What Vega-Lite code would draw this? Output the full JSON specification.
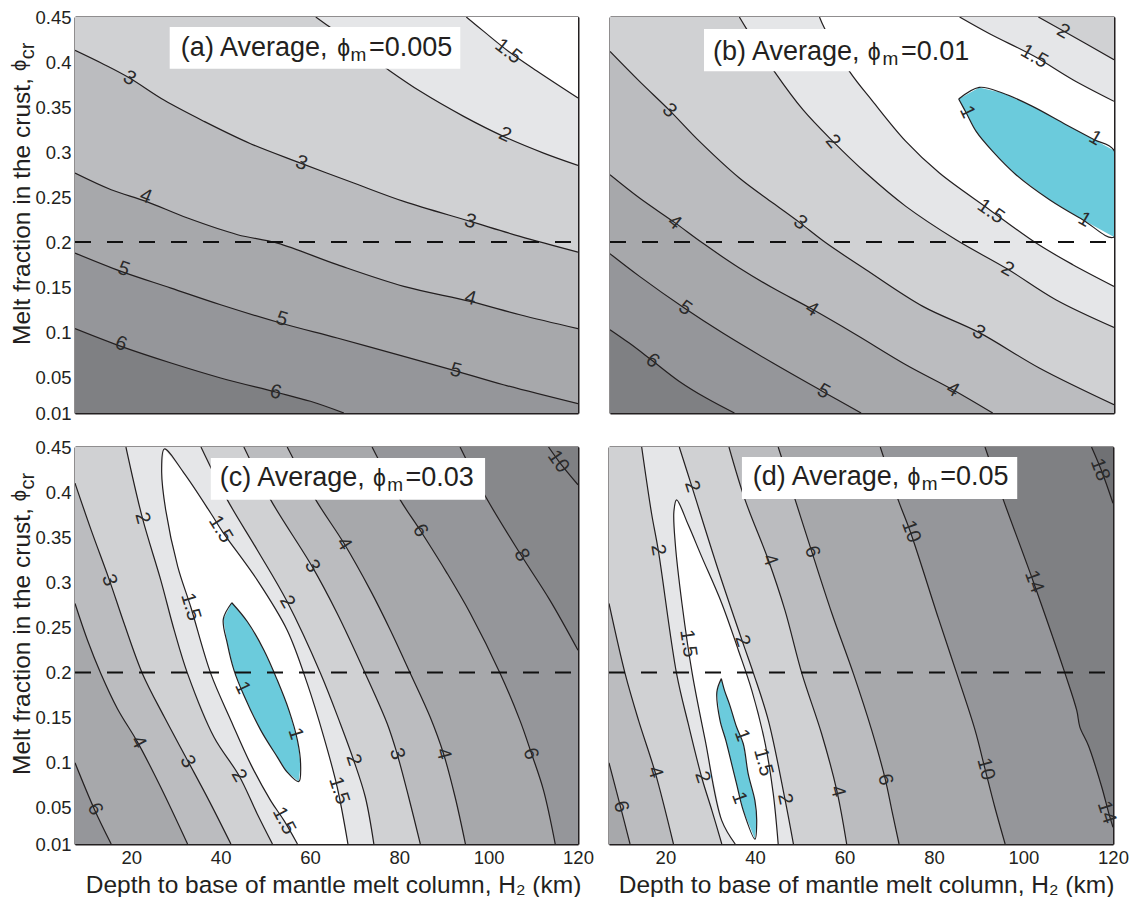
{
"$schema":"https://vega.github.io/schema/vega-lite/v6.json",
"padding":{"left":9,"top":8,"right":0,"bottom":0},
"background":"white",
"config":{"font":"Liberation Sans","view":{"stroke":null},
"axis":{"domainColor":"#231f20","domainWidth":2,"tickColor":"#231f20","tickWidth":1,"tickSize":-5,"labelFontSize":18.5,"labelColor":"#231f20","titleFontSize":24.5,"titleFontWeight":"normal","titleColor":"#231f20","grid":false,"zindex":1,"labelPadding":9,"labelOverlap":false,"labelFlush":false,"labelBound":false}},
"datasets":{
"reference":[{"x":7.4,"x2":120,"y":0.2}],
"yTitle":[{"text":"ϕ","x":-3.5,"y":0.39},{"text":"cr","x":-1.7,"y":0.403}],
"a":[
{"zone":"z8","x":7.4,"y":0.45},{"zone":"z8","x":120,"y":0.45},{"zone":"z8","x":120,"y":0.01},{"zone":"z8","x":7.4,"y":0.01},
{"zone":"z6","line":"6","x":7.4,"y":0.1037},{"zone":"z6","line":"6","x":17.7,"y":0.084},{"zone":"z6","line":"6","x":28.9,"y":0.0655},{"zone":"z6","line":"6","x":40,"y":0.0489},{"zone":"z6","line":"6","x":52.3,"y":0.0333},{"zone":"z6","line":"6","x":60.1,"y":0.023},{"zone":"z6","line":"6","x":67.6,"y":0.01},{"zone":"z6","x":120,"y":0.01},{"zone":"z6","x":120,"y":0.45},{"zone":"z6","x":7.4,"y":0.45},
{"zone":"z5","line":"5","x":7.4,"y":0.1877},{"zone":"z5","line":"5","x":17.7,"y":0.1674},{"zone":"z5","line":"5","x":28.9,"y":0.1488},{"zone":"z5","line":"5","x":40,"y":0.1303},{"zone":"z5","line":"5","x":53.4,"y":0.11},{"zone":"z5","line":"5","x":66.1,"y":0.0933},{"zone":"z5","line":"5","x":81,"y":0.0729},{"zone":"z5","line":"5","x":92.2,"y":0.0574},{"zone":"z5","line":"5","x":103.3,"y":0.0414},{"zone":"z5","line":"5","x":120,"y":0.0203},{"zone":"z5","x":120,"y":0.45},{"zone":"z5","x":7.4,"y":0.45},
{"zone":"z4","line":"4","x":7.4,"y":0.2766},{"zone":"z4","line":"4","x":15.5,"y":0.2581},{"zone":"z4","line":"4","x":23.3,"y":0.2451},{"zone":"z4","line":"4","x":32.6,"y":0.2266},{"zone":"z4","line":"4","x":43.8,"y":0.2081},{"zone":"z4","line":"4","x":52.7,"y":0.1988},{"zone":"z4","line":"4","x":66.1,"y":0.1748},{"zone":"z4","line":"4","x":81,"y":0.1507},{"zone":"z4","line":"4","x":95.9,"y":0.134},{"zone":"z4","line":"4","x":107,"y":0.1192},{"zone":"z4","line":"4","x":120,"y":0.1037},{"zone":"z4","x":120,"y":0.45},{"zone":"z4","x":7.4,"y":0.45},
{"zone":"z3","line":"3","x":7.4,"y":0.4129},{"zone":"z3","line":"3","x":14,"y":0.397},{"zone":"z3","line":"3","x":19.6,"y":0.3822},{"zone":"z3","line":"3","x":27.4,"y":0.3574},{"zone":"z3","line":"3","x":36.3,"y":0.334},{"zone":"z3","line":"3","x":46.7,"y":0.3092},{"zone":"z3","line":"3","x":57.9,"y":0.2877},{"zone":"z3","line":"3","x":69.8,"y":0.2655},{"zone":"z3","line":"3","x":81,"y":0.2451},{"zone":"z3","line":"3","x":95.9,"y":0.2229},{"zone":"z3","line":"3","x":107,"y":0.2063},{"zone":"z3","line":"3","x":120,"y":0.1888},{"zone":"z3","x":120,"y":0.45},{"zone":"z3","x":7.4,"y":0.45},
{"zone":"z2","line":"2","x":61.3,"y":0.45},{"zone":"z2","line":"2","x":64.2,"y":0.4396},{"zone":"z2","line":"2","x":77.3,"y":0.3922},{"zone":"z2","line":"2","x":84.7,"y":0.3674},{"zone":"z2","line":"2","x":94.4,"y":0.3396},{"zone":"z2","line":"2","x":103.3,"y":0.3174},{"zone":"z2","line":"2","x":112.3,"y":0.2988},{"zone":"z2","line":"2","x":120,"y":0.2851},{"zone":"z2","x":120,"y":0.45},
{"zone":"z1","line":"1.5","x":95,"y":0.45},{"zone":"z1","line":"1.5","x":98.9,"y":0.434},{"zone":"z1","line":"1.5","x":104.4,"y":0.412},{"zone":"z1","line":"1.5","x":110.8,"y":0.39},{"zone":"z1","line":"1.5","x":120,"y":0.36},{"zone":"z1","x":120,"y":0.45}
],
"aLabels":[
{"text":"1.5","x":104.4,"y":0.4118,"angle":38},{"text":"2","x":103.7,"y":0.3192,"angle":25},{"text":"3","x":19.6,"y":0.3822,"angle":30},{"text":"3","x":58.1,"y":0.2877,"angle":20},{"text":"3","x":95.9,"y":0.2229,"angle":17},{"text":"4","x":23.3,"y":0.2507,"angle":22},{"text":"4","x":95.9,"y":0.1377,"angle":15},{"text":"5","x":18.3,"y":0.17,"angle":20},{"text":"5","x":53.7,"y":0.1144,"angle":18},{"text":"5","x":92.7,"y":0.0574,"angle":15},{"text":"6","x":17.7,"y":0.087,"angle":20},{"text":"6","x":52.3,"y":0.0333,"angle":15}
],
"aBox":[{"x":28.6,"x2":93.65,"y":0.4388,"y2":0.3925}],
"aHead":[{"kind":"big","text":"(a) Average,","x":31.1,"y":0.4063},{"kind":"big","text":"=0.005","x":73.2,"y":0.4063},{"kind":"phi","text":"ϕ","x":66.1,"y":0.4063},{"kind":"sub","text":"m","x":69.1,"y":0.4014}],
"b":[
{"zone":"z8","x":7.4,"y":0.45},{"zone":"z8","x":120,"y":0.45},{"zone":"z8","x":120,"y":0.01},{"zone":"z8","x":7.4,"y":0.01},
{"zone":"z6","line":"6","x":7.4,"y":0.1026},{"zone":"z6","line":"6","x":11.7,"y":0.0877},{"zone":"z6","line":"6","x":16.6,"y":0.0692},{"zone":"z6","line":"6","x":22.9,"y":0.0451},{"zone":"z6","line":"6","x":28.9,"y":0.0266},{"zone":"z6","line":"6","x":35.2,"y":0.01},{"zone":"z6","x":120,"y":0.01},{"zone":"z6","x":120,"y":0.45},{"zone":"z6","x":7.4,"y":0.45},
{"zone":"z5","line":"5","x":7.4,"y":0.187},{"zone":"z5","line":"5","x":14,"y":0.1618},{"zone":"z5","line":"5","x":24,"y":0.1266},{"zone":"z5","line":"5","x":32.6,"y":0.0988},{"zone":"z5","line":"5","x":43.8,"y":0.0655},{"zone":"z5","line":"5","x":54.9,"y":0.034},{"zone":"z5","line":"5","x":63.5,"y":0.01},{"zone":"z5","x":120,"y":0.01},{"zone":"z5","x":120,"y":0.45},{"zone":"z5","x":7.4,"y":0.45},
{"zone":"z4","line":"4","x":7.4,"y":0.2748},{"zone":"z4","line":"4","x":14,"y":0.2489},{"zone":"z4","line":"4","x":21.8,"y":0.2218},{"zone":"z4","line":"4","x":28.1,"y":0.1988},{"zone":"z4","line":"4","x":36.3,"y":0.1711},{"zone":"z4","line":"4","x":43.8,"y":0.1488},{"zone":"z4","line":"4","x":52.5,"y":0.1255},{"zone":"z4","line":"4","x":62.4,"y":0.097},{"zone":"z4","line":"4","x":73.5,"y":0.0637},{"zone":"z4","line":"4","x":84,"y":0.0359},{"zone":"z4","line":"4","x":92.9,"y":0.01},{"zone":"z4","x":120,"y":0.01},{"zone":"z4","x":120,"y":0.45},{"zone":"z4","x":7.4,"y":0.45},
{"zone":"z3","line":"3","x":7.4,"y":0.4118},{"zone":"z3","line":"3","x":14,"y":0.3785},{"zone":"z3","line":"3","x":20.7,"y":0.3463},{"zone":"z3","line":"3","x":27.4,"y":0.3118},{"zone":"z3","line":"3","x":36.3,"y":0.2711},{"zone":"z3","line":"3","x":43.8,"y":0.2433},{"zone":"z3","line":"3","x":49.7,"y":0.2218},{"zone":"z3","line":"3","x":55.7,"y":0.1988},{"zone":"z3","line":"3","x":64.6,"y":0.1692},{"zone":"z3","line":"3","x":77.3,"y":0.1285},{"zone":"z3","line":"3","x":89.8,"y":0.0996},{"zone":"z3","line":"3","x":103.3,"y":0.06},{"zone":"z3","line":"3","x":120,"y":0.0192},{"zone":"z3","x":120,"y":0.45},{"zone":"z3","x":7.4,"y":0.45},
{"zone":"z2","line":"2a","x":36.3,"y":0.45},{"zone":"z2","line":"2a","x":37.8,"y":0.4377},{"zone":"z2","line":"2a","x":44.1,"y":0.3896},{"zone":"z2","line":"2a","x":50.5,"y":0.347},{"zone":"z2","line":"2a","x":57.2,"y":0.3118},{"zone":"z2","line":"2a","x":64.6,"y":0.2766},{"zone":"z2","line":"2a","x":73.5,"y":0.2396},{"zone":"z2","line":"2a","x":84.7,"y":0.2025},{"zone":"z2","line":"2a","x":96.2,"y":0.17},{"zone":"z2","line":"2a","x":107,"y":0.1359},{"zone":"z2","line":"2a","x":120,"y":0.1051},{"zone":"z2","line":"2b","x":120,"y":0.4026},{"zone":"z2","line":"2b","x":108.9,"y":0.434},{"zone":"z2","line":"2b","x":103.1,"y":0.45},
{"zone":"z1","line":"1.5a","x":54.2,"y":0.45},{"zone":"z1","line":"1.5a","x":55.3,"y":0.4377},{"zone":"z1","line":"1.5a","x":60.9,"y":0.3896},{"zone":"z1","line":"1.5a","x":66.1,"y":0.3563},{"zone":"z1","line":"1.5a","x":73.5,"y":0.3118},{"zone":"z1","line":"1.5a","x":81,"y":0.2766},{"zone":"z1","line":"1.5a","x":92.2,"y":0.2359},{"zone":"z1","line":"1.5a","x":102.6,"y":0.1988},{"zone":"z1","line":"1.5a","x":110.8,"y":0.1748},{"zone":"z1","line":"1.5a","x":120,"y":0.1507},{"zone":"z1","line":"1.5b","x":120,"y":0.3563},{"zone":"z1","line":"1.5b","x":110.8,"y":0.3803},{"zone":"z1","line":"1.5b","x":102.2,"y":0.4063},{"zone":"z1","line":"1.5b","x":92.2,"y":0.4314},{"zone":"z1","line":"1.5b","x":85.5,"y":0.45},
{"zone":"z0","line":"1","x":85.3,"y":0.3588},{"zone":"z0","line":"1","x":89.9,"y":0.3718},{"zone":"z0","line":"1","x":95.1,"y":0.3655},{"zone":"z0","line":"1","x":101.8,"y":0.3507},{"zone":"z0","line":"1","x":109.3,"y":0.3303},{"zone":"z0","line":"1","x":115.6,"y":0.3137},{"zone":"z0","line":"1","x":120,"y":0.3018},{"zone":"z0","line":"1","x":120,"y":0.2055},{"zone":"z0","line":"1","x":113,"y":0.2248},{"zone":"z0","line":"1","x":105.6,"y":0.247},{"zone":"z0","line":"1","x":98.1,"y":0.2748},{"zone":"z0","line":"1","x":92.9,"y":0.3007},{"zone":"z0","line":"1","x":89.2,"y":0.3229},{"zone":"z0","line":"1","x":87,"y":0.3433},{"zone":"z0","line":"1","x":85.3,"y":0.3588}
],
"bLabels":[
{"text":"2","x":108.7,"y":0.434,"angle":30},{"text":"1.5","x":102.2,"y":0.4063,"angle":30},{"text":"1","x":87.2,"y":0.3444,"angle":65},{"text":"1","x":115.8,"y":0.3155,"angle":30},{"text":"1","x":113.4,"y":0.2248,"angle":30},{"text":"1.5","x":92.5,"y":0.234,"angle":35},{"text":"2","x":57.2,"y":0.3118,"angle":50},{"text":"2","x":96.2,"y":0.17,"angle":30},{"text":"3","x":20.7,"y":0.3463,"angle":45},{"text":"3","x":49.9,"y":0.2218,"angle":38},{"text":"3","x":89.8,"y":0.0996,"angle":30},{"text":"4","x":21.8,"y":0.2218,"angle":38},{"text":"4","x":52.5,"y":0.1255,"angle":32},{"text":"4","x":84,"y":0.0359,"angle":30},{"text":"5","x":24.2,"y":0.1266,"angle":35},{"text":"5","x":55.1,"y":0.034,"angle":30},{"text":"6","x":16.9,"y":0.0681,"angle":38}
],
"bBox":[{"x":28.4,"x2":87.3,"y":0.4366,"y2":0.3896}],
"bHead":[{"kind":"big","text":"(b) Average,","x":30.4,"y":0.4026},{"kind":"big","text":"=0.01","x":72.4,"y":0.4026},{"kind":"phi","text":"ϕ","x":65,"y":0.4026},{"kind":"sub","text":"m","x":68.3,"y":0.397}],
"c":[
{"zone":"z8","x":7.4,"y":0.45},{"zone":"z8","x":120,"y":0.45},{"zone":"z8","x":120,"y":0.01},{"zone":"z8","x":7.4,"y":0.01},
{"zone":"z7","line":"10","x":113.4,"y":0.45},{"zone":"z7","line":"10","x":116,"y":0.4322},{"zone":"z7","line":"10","x":120,"y":0.4081},{"zone":"z7","x":120,"y":0.01},{"zone":"z7","x":7.4,"y":0.01},{"zone":"z7","x":7.4,"y":0.45},
{"zone":"z6","line":"8","x":93.6,"y":0.45},{"zone":"z6","line":"8","x":99.2,"y":0.3959},{"zone":"z6","line":"8","x":107,"y":0.3322},{"zone":"z6","line":"8","x":113.7,"y":0.2803},{"zone":"z6","line":"8","x":120,"y":0.2248},{"zone":"z6","x":120,"y":0.01},{"zone":"z6","x":7.4,"y":0.01},{"zone":"z6","x":7.4,"y":0.45},
{"zone":"z5","line":"6a","x":7.4,"y":0.1},{"zone":"z5","line":"6a","x":11.7,"y":0.0489},{"zone":"z5","line":"6a","x":15.5,"y":0.01},{"zone":"z5","line":"6b","x":114.9,"y":0.01},{"zone":"z5","line":"6b","x":112.3,"y":0.0692},{"zone":"z5","line":"6b","x":109.6,"y":0.11},{"zone":"z5","line":"6b","x":107,"y":0.147},{"zone":"z5","line":"6b","x":102.6,"y":0.1988},{"zone":"z5","line":"6b","x":95.9,"y":0.2655},{"zone":"z5","line":"6b","x":90.7,"y":0.31},{"zone":"z5","line":"6b","x":84.7,"y":0.3574},{"zone":"z5","line":"6b","x":80.2,"y":0.3914},{"zone":"z5","line":"6b","x":73.9,"y":0.45},{"zone":"z5","x":7.4,"y":0.45},
{"zone":"z4","line":"4a","x":7.4,"y":0.2766},{"zone":"z4","line":"4a","x":10.2,"y":0.2359},{"zone":"z4","line":"4a","x":13.2,"y":0.1988},{"zone":"z4","line":"4a","x":16.9,"y":0.16},{"zone":"z4","line":"4a","x":21.4,"y":0.1229},{"zone":"z4","line":"4a","x":26.6,"y":0.0729},{"zone":"z4","line":"4a","x":32.6,"y":0.01},{"zone":"z4","line":"4b","x":94.8,"y":0.01},{"zone":"z4","line":"4b","x":92.5,"y":0.0618},{"zone":"z4","line":"4b","x":89.9,"y":0.11},{"zone":"z4","line":"4b","x":86.9,"y":0.1507},{"zone":"z4","line":"4b","x":82.5,"y":0.1988},{"zone":"z4","line":"4b","x":78,"y":0.247},{"zone":"z4","line":"4b","x":73.5,"y":0.2914},{"zone":"z4","line":"4b","x":67.6,"y":0.3433},{"zone":"z4","line":"4b","x":61.3,"y":0.3914},{"zone":"z4","line":"4b","x":54.9,"y":0.45},{"zone":"z4","x":7.4,"y":0.45},
{"zone":"z3","line":"3a","x":7.4,"y":0.41},{"zone":"z3","line":"3a","x":11,"y":0.3581},{"zone":"z3","line":"3a","x":15.1,"y":0.3025},{"zone":"z3","line":"3a","x":18.4,"y":0.2544},{"zone":"z3","line":"3a","x":22.5,"y":0.1988},{"zone":"z3","line":"3a","x":27.4,"y":0.1507},{"zone":"z3","line":"3a","x":32.6,"y":0.1026},{"zone":"z3","line":"3a","x":37.4,"y":0.0581},{"zone":"z3","line":"3a","x":42.3,"y":0.01},{"zone":"z3","line":"3b","x":84.7,"y":0.01},{"zone":"z3","line":"3b","x":82.1,"y":0.0618},{"zone":"z3","line":"3b","x":79.5,"y":0.11},{"zone":"z3","line":"3b","x":77.3,"y":0.1433},{"zone":"z3","line":"3b","x":72.4,"y":0.1988},{"zone":"z3","line":"3b","x":66.1,"y":0.2655},{"zone":"z3","line":"3b","x":60.5,"y":0.3174},{"zone":"z3","line":"3b","x":51.2,"y":0.3914},{"zone":"z3","line":"3b","x":45.2,"y":0.45},{"zone":"z3","x":7.4,"y":0.45},
{"zone":"z2","line":"2a","x":18.8,"y":0.45},{"zone":"z2","line":"2a","x":22.5,"y":0.3711},{"zone":"z2","line":"2a","x":26.6,"y":0.3025},{"zone":"z2","line":"2a","x":29.6,"y":0.247},{"zone":"z2","line":"2a","x":32.6,"y":0.1988},{"zone":"z2","line":"2a","x":38.5,"y":0.1285},{"zone":"z2","line":"2a","x":44.1,"y":0.0859},{"zone":"z2","line":"2a","x":48.2,"y":0.0433},{"zone":"z2","line":"2a","x":51.6,"y":0.01},{"zone":"z2","line":"2b","x":74.3,"y":0.01},{"zone":"z2","line":"2b","x":72.4,"y":0.0618},{"zone":"z2","line":"2b","x":69.8,"y":0.1026},{"zone":"z2","line":"2b","x":66.8,"y":0.1433},{"zone":"z2","line":"2b","x":62.4,"y":0.1988},{"zone":"z2","line":"2b","x":54.9,"y":0.2785},{"zone":"z2","line":"2b","x":48.2,"y":0.3359},{"zone":"z2","line":"2b","x":41.5,"y":0.3914},{"zone":"z2","line":"2b","x":35.6,"y":0.45},
{"zone":"z1","line":"1.5","x":57.2,"y":0.01},{"zone":"z1","line":"1.5","x":54.2,"y":0.0359},{"zone":"z1","line":"1.5","x":51.2,"y":0.0581},{"zone":"z1","line":"1.5","x":46.7,"y":0.0988},{"zone":"z1","line":"1.5","x":42.3,"y":0.147},{"zone":"z1","line":"1.5","x":37.8,"y":0.1988},{"zone":"z1","line":"1.5","x":33.3,"y":0.2729},{"zone":"z1","line":"1.5","x":30.4,"y":0.3174},{"zone":"z1","line":"1.5","x":27.7,"y":0.3803},{"zone":"z1","line":"1.5","x":26.8,"y":0.4229},{"zone":"z1","line":"1.5","x":27.4,"y":0.4478},{"zone":"z1","line":"1.5","x":31.8,"y":0.4211},{"zone":"z1","line":"1.5","x":37.8,"y":0.3766},{"zone":"z1","line":"1.5","x":40.4,"y":0.3563},{"zone":"z1","line":"1.5","x":48.2,"y":0.3025},{"zone":"z1","line":"1.5","x":54.9,"y":0.247},{"zone":"z1","line":"1.5","x":59.4,"y":0.1877},{"zone":"z1","line":"1.5","x":63.1,"y":0.1285},{"zone":"z1","line":"1.5","x":66.1,"y":0.0729},{"zone":"z1","line":"1.5","x":68.5,"y":0.01},
{"zone":"z0","line":"1","x":42.5,"y":0.2774},{"zone":"z0","line":"1","x":40.6,"y":0.2592},{"zone":"z0","line":"1","x":41.5,"y":0.2322},{"zone":"z0","line":"1","x":43,"y":0.2025},{"zone":"z0","line":"1","x":45.2,"y":0.1748},{"zone":"z0","line":"1","x":49,"y":0.1359},{"zone":"z0","line":"1","x":52.7,"y":0.1063},{"zone":"z0","line":"1","x":54.9,"y":0.0896},{"zone":"z0","line":"1","x":57.5,"y":0.0792},{"zone":"z0","line":"1","x":57.9,"y":0.0988},{"zone":"z0","line":"1","x":57.2,"y":0.1248},{"zone":"z0","line":"1","x":55.3,"y":0.1581},{"zone":"z0","line":"1","x":52.7,"y":0.1914},{"zone":"z0","line":"1","x":49.7,"y":0.2248},{"zone":"z0","line":"1","x":46,"y":0.2563},{"zone":"z0","line":"1","x":42.5,"y":0.2774}
],
"cLabels":[
{"text":"10","x":115.6,"y":0.434,"angle":55},{"text":"8","x":107.4,"y":0.3303,"angle":60},{"text":"6","x":84.7,"y":0.3574,"angle":58},{"text":"6","x":109.4,"y":0.11,"angle":72},{"text":"6","x":11.9,"y":0.0488,"angle":65},{"text":"4","x":67.6,"y":0.3426,"angle":58},{"text":"4","x":89.9,"y":0.11,"angle":75},{"text":"4","x":21.6,"y":0.1229,"angle":62},{"text":"3","x":60.5,"y":0.3181,"angle":60},{"text":"3","x":79.5,"y":0.11,"angle":73},{"text":"3","x":15.1,"y":0.3025,"angle":70},{"text":"3","x":32.6,"y":0.1014,"angle":62},{"text":"2","x":22.5,"y":0.3711,"angle":75},{"text":"2","x":54.9,"y":0.2785,"angle":60},{"text":"2","x":69.8,"y":0.1033,"angle":72},{"text":"2","x":44.1,"y":0.0859,"angle":60},{"text":"1.5","x":40,"y":0.3589,"angle":58},{"text":"1.5","x":33.3,"y":0.2729,"angle":73},{"text":"1.5","x":66.5,"y":0.0692,"angle":72},{"text":"1.5","x":54.2,"y":0.0359,"angle":62},{"text":"1","x":44.9,"y":0.1833,"angle":65},{"text":"1","x":56.8,"y":0.1322,"angle":72}
],
"cBox":[{"x":37.8,"x2":99.2,"y":0.4377,"y2":0.3914}],
"cHead":[{"kind":"big","text":"(c) Average,","x":39.8,"y":0.4063},{"kind":"big","text":"=0.03","x":81.4,"y":0.4063},{"kind":"phi","text":"ϕ","x":74.1,"y":0.4063},{"kind":"sub","text":"m","x":77.3,"y":0.4014}],
"d":[
{"zone":"z9","x":7.4,"y":0.45},{"zone":"z9","x":120,"y":0.45},{"zone":"z9","x":120,"y":0.01},{"zone":"z9","x":7.4,"y":0.01},
{"zone":"z8","line":"18","x":115.2,"y":0.45},{"zone":"z8","line":"18","x":117.5,"y":0.4229},{"zone":"z8","line":"18","x":120,"y":0.3877},{"zone":"z8","x":120,"y":0.01},{"zone":"z8","x":7.4,"y":0.01},{"zone":"z8","x":7.4,"y":0.45},
{"zone":"z6","line":"14","x":91.4,"y":0.45},{"zone":"z6","line":"14","x":95.5,"y":0.3914},{"zone":"z6","line":"14","x":102.2,"y":0.3007},{"zone":"z6","line":"14","x":109.3,"y":0.1988},{"zone":"z6","line":"14","x":111.9,"y":0.1581},{"zone":"z6","line":"14","x":112.6,"y":0.1396},{"zone":"z6","line":"14","x":114.5,"y":0.1192},{"zone":"z6","line":"14","x":117.5,"y":0.0729},{"zone":"z6","line":"14","x":119,"y":0.0451},{"zone":"z6","line":"14","x":120,"y":0.0285},{"zone":"z6","x":120,"y":0.01},{"zone":"z6","x":7.4,"y":0.01},{"zone":"z6","x":7.4,"y":0.45},
{"zone":"z5","line":"10","x":68,"y":0.45},{"zone":"z5","line":"10","x":72,"y":0.3914},{"zone":"z5","line":"10","x":74.7,"y":0.3563},{"zone":"z5","line":"10","x":81,"y":0.26},{"zone":"z5","line":"10","x":85.1,"y":0.1988},{"zone":"z5","line":"10","x":89.2,"y":0.1359},{"zone":"z5","line":"10","x":91.4,"y":0.0933},{"zone":"z5","line":"10","x":93.6,"y":0.0507},{"zone":"z5","line":"10","x":95.9,"y":0.01},{"zone":"z5","x":7.4,"y":0.01},{"zone":"z5","x":7.4,"y":0.45},
{"zone":"z4","line":"6a","x":7.4,"y":0.1},{"zone":"z4","line":"6a","x":9.9,"y":0.0525},{"zone":"z4","line":"6a","x":12.1,"y":0.01},{"zone":"z4","line":"6b","x":72.2,"y":0.01},{"zone":"z4","line":"6b","x":70.6,"y":0.047},{"zone":"z4","line":"6b","x":69.1,"y":0.0822},{"zone":"z4","line":"6b","x":66.1,"y":0.1359},{"zone":"z4","line":"6b","x":62,"y":0.1988},{"zone":"z4","line":"6b","x":57.2,"y":0.2655},{"zone":"z4","line":"6b","x":52.7,"y":0.334},{"zone":"z4","line":"6b","x":49,"y":0.3914},{"zone":"z4","line":"6b","x":45.2,"y":0.45},{"zone":"z4","x":7.4,"y":0.45},
{"zone":"z3","line":"4a","x":7.4,"y":0.2766},{"zone":"z3","line":"4a","x":11,"y":0.1988},{"zone":"z3","line":"4a","x":14,"y":0.147},{"zone":"z3","line":"4a","x":17.7,"y":0.0896},{"zone":"z3","line":"4a","x":21.8,"y":0.01},{"zone":"z3","line":"4b","x":60.5,"y":0.01},{"zone":"z3","line":"4b","x":58.3,"y":0.0692},{"zone":"z3","line":"4b","x":54.9,"y":0.1322},{"zone":"z3","line":"4b","x":50.5,"y":0.1988},{"zone":"z3","line":"4b","x":46.7,"y":0.2692},{"zone":"z3","line":"4b","x":43,"y":0.3248},{"zone":"z3","line":"4b","x":37.8,"y":0.3914},{"zone":"z3","line":"4b","x":34.2,"y":0.45},{"zone":"z3","x":7.4,"y":0.45},
{"zone":"z2","line":"2a","x":14.7,"y":0.45},{"zone":"z2","line":"2a","x":16.9,"y":0.3766},{"zone":"z2","line":"2a","x":18.4,"y":0.3359},{"zone":"z2","line":"2a","x":22.5,"y":0.1988},{"zone":"z2","line":"2a","x":25.1,"y":0.1433},{"zone":"z2","line":"2a","x":28.1,"y":0.084},{"zone":"z2","line":"2a","x":30.4,"y":0.047},{"zone":"z2","line":"2a","x":32.6,"y":0.01},{"zone":"z2","line":"2b","x":48.6,"y":0.01},{"zone":"z2","line":"2b","x":46.7,"y":0.06},{"zone":"z2","line":"2b","x":43,"y":0.147},{"zone":"z2","line":"2b","x":39.7,"y":0.1988},{"zone":"z2","line":"2b","x":37.1,"y":0.2359},{"zone":"z2","line":"2b","x":31.8,"y":0.3137},{"zone":"z2","line":"2b","x":25.9,"y":0.4063},{"zone":"z2","line":"2b","x":23.1,"y":0.45},
{"zone":"z1","line":"1.5","x":35.6,"y":0.01},{"zone":"z1","line":"1.5","x":32.6,"y":0.0359},{"zone":"z1","line":"1.5","x":28.9,"y":0.1248},{"zone":"z1","line":"1.5","x":26,"y":0.1988},{"zone":"z1","line":"1.5","x":23.7,"y":0.2766},{"zone":"z1","line":"1.5","x":22.2,"y":0.3433},{"zone":"z1","line":"1.5","x":21.9,"y":0.3785},{"zone":"z1","line":"1.5","x":22.5,"y":0.3914},{"zone":"z1","line":"1.5","x":25.1,"y":0.3637},{"zone":"z1","line":"1.5","x":28.1,"y":0.3285},{"zone":"z1","line":"1.5","x":32.6,"y":0.2766},{"zone":"z1","line":"1.5","x":36.3,"y":0.2248},{"zone":"z1","line":"1.5","x":39.3,"y":0.1803},{"zone":"z1","line":"1.5","x":42.3,"y":0.1211},{"zone":"z1","line":"1.5","x":44.1,"y":0.0655},{"zone":"z1","line":"1.5","x":45.2,"y":0.01},
{"zone":"z0","line":"1","x":32.5,"y":0.1933},{"zone":"z0","line":"1","x":31.5,"y":0.1785},{"zone":"z0","line":"1","x":32.2,"y":0.147},{"zone":"z0","line":"1","x":33.5,"y":0.1248},{"zone":"z0","line":"1","x":34.8,"y":0.0988},{"zone":"z0","line":"1","x":35.9,"y":0.0766},{"zone":"z0","line":"1","x":37.4,"y":0.047},{"zone":"z0","line":"1","x":40,"y":0.0155},{"zone":"z0","line":"1","x":40.4,"y":0.0359},{"zone":"z0","line":"1","x":40,"y":0.0581},{"zone":"z0","line":"1","x":38.5,"y":0.0877},{"zone":"z0","line":"1","x":37.4,"y":0.1211},{"zone":"z0","line":"1","x":35.9,"y":0.1396},{"zone":"z0","line":"1","x":34.4,"y":0.1637},{"zone":"z0","line":"1","x":33.2,"y":0.1803},{"zone":"z0","line":"1","x":32.5,"y":0.1933}
],
"dLabels":[
{"text":"18","x":117.1,"y":0.4248,"angle":70},{"text":"14","x":102.4,"y":0.3007,"angle":70},{"text":"14","x":118.6,"y":0.0451,"angle":72},{"text":"10","x":74.9,"y":0.3563,"angle":70},{"text":"10","x":91.6,"y":0.0933,"angle":75},{"text":"6","x":52.8,"y":0.334,"angle":72},{"text":"6","x":69.1,"y":0.0814,"angle":75},{"text":"6","x":10.1,"y":0.0514,"angle":75},{"text":"4","x":43.4,"y":0.3248,"angle":70},{"text":"4","x":58.5,"y":0.0685,"angle":75},{"text":"4","x":17.7,"y":0.0896,"angle":72},{"text":"2","x":26,"y":0.4063,"angle":72},{"text":"2","x":18.4,"y":0.3359,"angle":80},{"text":"2","x":37.2,"y":0.2351,"angle":72},{"text":"2","x":46.7,"y":0.06,"angle":78},{"text":"2","x":28.3,"y":0.084,"angle":72},{"text":"1.5","x":25.1,"y":0.2322,"angle":82},{"text":"1.5","x":41.9,"y":0.1007,"angle":75},{"text":"1","x":37.1,"y":0.1303,"angle":70},{"text":"1","x":36.5,"y":0.0611,"angle":70}
],
"dBox":[{"x":37.1,"x2":98.6,"y":0.4388,"y2":0.3925}],
"dHead":[{"kind":"big","text":"(d) Average,","x":39.5,"y":0.4074},{"kind":"big","text":"=0.05","x":81.4,"y":0.4074},{"kind":"phi","text":"ϕ","x":74.1,"y":0.4074},{"kind":"sub","text":"m","x":77.3,"y":0.4026}]
},
"spacing":15,
"vconcat":[
{"spacing":30,"hconcat":[
{"width":503,"height":396,
"resolve":{"axis":{"x":"independent","y":"independent"}},
"encoding":{"x":{"field":"x","type":"quantitative","scale":{"domain":[7.4,120],"nice":false,"zero":false},"axis":null},"y":{"field":"y","type":"quantitative","scale":{"domain":[0.01,0.45],"nice":false,"zero":false},"axis":null}},
"layer":[
{"data":{"name":"a"},"mark":{"type":"line","clip":true,"strokeWidth":0},"encoding":{"x":{"field":"x","type":"quantitative","axis":{"orient":"bottom","values":[20,40,60,80,100,120],"labels":false,"title":null}},"y":{"field":"y","type":"quantitative","axis":{"orient":"left","values":[0.01,0.05,0.1,0.15,0.2,0.25,0.3,0.35,0.4,0.45],"format":".2~f","title":"Melt fraction in the crust,","titleX":-46,"titleY":194,"titleBaseline":"alphabetic"}},"fill":{"field":"zone","type":"nominal","legend":null,"scale":{"domain":["z0","z1","z2","z3","z4","z5","z6","z7","z8","z9"],"range":["#6bcbdc","#ffffff","#e5e6e8","#d0d1d3","#bbbcbf","#a7a8ab","#95969a","#87888b","#7f8083","#707174"]}},"order":{"value":null}}},
{"data":{"name":"a"},"transform":[{"filter":"isValid(datum.line)"}],"mark":{"type":"line","clip":true,"color":"#231f20","strokeWidth":1.2,"interpolate":"catmull-rom"},"encoding":{"x":{"field":"x","type":"quantitative","axis":{"orient":"top","values":[20,40,60,80,100,120],"labels":false,"title":null}},"y":{"field":"y","type":"quantitative","axis":{"orient":"right","values":[0.05,0.1,0.15,0.2,0.25,0.3,0.35,0.4],"labels":false,"title":null}},"detail":{"field":"line"},"order":{"value":null}}},
{"data":{"name":"reference"},"mark":{"type":"rule","color":"#111111","strokeWidth":2,"strokeDash":[16,16]},"encoding":{"x2":{"field":"x2"}}},
{"data":{"name":"aLabels"},"mark":{"type":"text","fontSize":20,"color":"#2b2b2b"},"encoding":{"text":{"field":"text"},"angle":{"field":"angle","type":"quantitative","scale":null}}},
{"data":{"name":"aBox"},"mark":{"type":"rect","color":"white"},"encoding":{"x2":{"field":"x2"},"y2":{"field":"y2"}}},
{"data":{"name":"aHead"},"transform":[{"filter":"datum.kind=='big'"}],"mark":{"type":"text","align":"left","baseline":"alphabetic","fontSize":27,"color":"#231f20"},"encoding":{"text":{"field":"text"}}},
{"data":{"name":"aHead"},"transform":[{"filter":"datum.kind=='phi'"}],"mark":{"type":"text","align":"left","baseline":"alphabetic","fontSize":23,"color":"#231f20"},"encoding":{"text":{"field":"text"}}},
{"data":{"name":"aHead"},"transform":[{"filter":"datum.kind=='sub'"}],"mark":{"type":"text","align":"left","baseline":"alphabetic","fontSize":19,"color":"#231f20"},"encoding":{"text":{"field":"text"}}},
{"data":{"name":"yTitle"},"mark":{"type":"text","align":"left","baseline":"alphabetic","angle":270,"fontSize":20,"color":"#231f20"},"encoding":{"text":{"field":"text"}}}
]},
{"width":504,"height":396,
"resolve":{"axis":{"x":"independent","y":"independent"}},
"encoding":{"x":{"field":"x","type":"quantitative","scale":{"domain":[7.4,120],"nice":false,"zero":false},"axis":null},"y":{"field":"y","type":"quantitative","scale":{"domain":[0.01,0.45],"nice":false,"zero":false},"axis":null}},
"layer":[
{"data":{"name":"b"},"mark":{"type":"line","clip":true,"strokeWidth":0},"encoding":{"x":{"field":"x","type":"quantitative","axis":{"orient":"bottom","values":[20,40,60,80,100,120],"labels":false,"title":null}},"y":{"field":"y","type":"quantitative","axis":{"orient":"left","values":[0.05,0.1,0.15,0.2,0.25,0.3,0.35,0.4],"labels":false,"title":null}},"fill":{"field":"zone","type":"nominal","legend":null,"scale":{"domain":["z0","z1","z2","z3","z4","z5","z6","z7","z8","z9"],"range":["#6bcbdc","#ffffff","#e5e6e8","#d0d1d3","#bbbcbf","#a7a8ab","#95969a","#87888b","#7f8083","#707174"]}},"order":{"value":null}}},
{"data":{"name":"b"},"transform":[{"filter":"isValid(datum.line)"}],"mark":{"type":"line","clip":true,"color":"#231f20","strokeWidth":1.2,"interpolate":"catmull-rom"},"encoding":{"x":{"field":"x","type":"quantitative","axis":{"orient":"top","values":[20,40,60,80,100,120],"labels":false,"title":null}},"y":{"field":"y","type":"quantitative","axis":{"orient":"right","values":[0.05,0.1,0.15,0.2,0.25,0.3,0.35,0.4],"labels":false,"title":null}},"detail":{"field":"line"},"order":{"value":null}}},
{"data":{"name":"reference"},"mark":{"type":"rule","color":"#111111","strokeWidth":2,"strokeDash":[16,16]},"encoding":{"x2":{"field":"x2"}}},
{"data":{"name":"bLabels"},"mark":{"type":"text","fontSize":20,"color":"#2b2b2b"},"encoding":{"text":{"field":"text"},"angle":{"field":"angle","type":"quantitative","scale":null}}},
{"data":{"name":"bBox"},"mark":{"type":"rect","color":"white"},"encoding":{"x2":{"field":"x2"},"y2":{"field":"y2"}}},
{"data":{"name":"bHead"},"transform":[{"filter":"datum.kind=='big'"}],"mark":{"type":"text","align":"left","baseline":"alphabetic","fontSize":27,"color":"#231f20"},"encoding":{"text":{"field":"text"}}},
{"data":{"name":"bHead"},"transform":[{"filter":"datum.kind=='phi'"}],"mark":{"type":"text","align":"left","baseline":"alphabetic","fontSize":23,"color":"#231f20"},"encoding":{"text":{"field":"text"}}},
{"data":{"name":"bHead"},"transform":[{"filter":"datum.kind=='sub'"}],"mark":{"type":"text","align":"left","baseline":"alphabetic","fontSize":19,"color":"#231f20"},"encoding":{"text":{"field":"text"}}}
]}
]},
{"spacing":14,"hconcat":[
{"width":503,"height":397,
"resolve":{"axis":{"x":"independent","y":"independent"}},
"encoding":{"x":{"field":"x","type":"quantitative","scale":{"domain":[7.4,120],"nice":false,"zero":false},"axis":null},"y":{"field":"y","type":"quantitative","scale":{"domain":[0.01,0.45],"nice":false,"zero":false},"axis":null}},
"layer":[
{"data":{"name":"c"},"mark":{"type":"line","clip":true,"strokeWidth":0},"encoding":{"x":{"field":"x","type":"quantitative","axis":{"orient":"bottom","values":[20,40,60,80,100,120],"title":"Depth to base of mantle melt column, H₂ (km)","titleX":258,"titleY":48,"titleBaseline":"alphabetic"}},"y":{"field":"y","type":"quantitative","axis":{"orient":"left","values":[0.01,0.05,0.1,0.15,0.2,0.25,0.3,0.35,0.4,0.45],"format":".2~f","title":"Melt fraction in the crust,","titleX":-46,"titleY":194,"titleBaseline":"alphabetic"}},"fill":{"field":"zone","type":"nominal","legend":null,"scale":{"domain":["z0","z1","z2","z3","z4","z5","z6","z7","z8","z9"],"range":["#6bcbdc","#ffffff","#e5e6e8","#d0d1d3","#bbbcbf","#a7a8ab","#95969a","#87888b","#7f8083","#707174"]}},"order":{"value":null}}},
{"data":{"name":"c"},"transform":[{"filter":"isValid(datum.line)"}],"mark":{"type":"line","clip":true,"color":"#231f20","strokeWidth":1.2,"interpolate":"catmull-rom"},"encoding":{"x":{"field":"x","type":"quantitative","axis":{"orient":"top","values":[20,40,60,80,100,120],"labels":false,"title":null}},"y":{"field":"y","type":"quantitative","axis":{"orient":"right","values":[0.05,0.1,0.15,0.2,0.25,0.3,0.35,0.4],"labels":false,"title":null}},"detail":{"field":"line"},"order":{"value":null}}},
{"data":{"name":"reference"},"mark":{"type":"rule","color":"#111111","strokeWidth":2,"strokeDash":[16,16]},"encoding":{"x2":{"field":"x2"}}},
{"data":{"name":"cLabels"},"mark":{"type":"text","fontSize":20,"color":"#2b2b2b"},"encoding":{"text":{"field":"text"},"angle":{"field":"angle","type":"quantitative","scale":null}}},
{"data":{"name":"cBox"},"mark":{"type":"rect","color":"white"},"encoding":{"x2":{"field":"x2"},"y2":{"field":"y2"}}},
{"data":{"name":"cHead"},"transform":[{"filter":"datum.kind=='big'"}],"mark":{"type":"text","align":"left","baseline":"alphabetic","fontSize":27,"color":"#231f20"},"encoding":{"text":{"field":"text"}}},
{"data":{"name":"cHead"},"transform":[{"filter":"datum.kind=='phi'"}],"mark":{"type":"text","align":"left","baseline":"alphabetic","fontSize":23,"color":"#231f20"},"encoding":{"text":{"field":"text"}}},
{"data":{"name":"cHead"},"transform":[{"filter":"datum.kind=='sub'"}],"mark":{"type":"text","align":"left","baseline":"alphabetic","fontSize":19,"color":"#231f20"},"encoding":{"text":{"field":"text"}}},
{"data":{"name":"yTitle"},"mark":{"type":"text","align":"left","baseline":"alphabetic","angle":270,"fontSize":20,"color":"#231f20"},"encoding":{"text":{"field":"text"}}}
]},
{"width":504,"height":397,
"resolve":{"axis":{"x":"independent","y":"independent"}},
"encoding":{"x":{"field":"x","type":"quantitative","scale":{"domain":[7.4,120],"nice":false,"zero":false},"axis":null},"y":{"field":"y","type":"quantitative","scale":{"domain":[0.01,0.45],"nice":false,"zero":false},"axis":null}},
"layer":[
{"data":{"name":"d"},"mark":{"type":"line","clip":true,"strokeWidth":0},"encoding":{"x":{"field":"x","type":"quantitative","axis":{"orient":"bottom","values":[20,40,60,80,100,120],"title":"Depth to base of mantle melt column, H₂ (km)","titleX":257,"titleY":48,"titleBaseline":"alphabetic"}},"y":{"field":"y","type":"quantitative","axis":{"orient":"left","values":[0.05,0.1,0.15,0.2,0.25,0.3,0.35,0.4],"labels":false,"title":null}},"fill":{"field":"zone","type":"nominal","legend":null,"scale":{"domain":["z0","z1","z2","z3","z4","z5","z6","z7","z8","z9"],"range":["#6bcbdc","#ffffff","#e5e6e8","#d0d1d3","#bbbcbf","#a7a8ab","#95969a","#87888b","#7f8083","#707174"]}},"order":{"value":null}}},
{"data":{"name":"d"},"transform":[{"filter":"isValid(datum.line)"}],"mark":{"type":"line","clip":true,"color":"#231f20","strokeWidth":1.2,"interpolate":"catmull-rom"},"encoding":{"x":{"field":"x","type":"quantitative","axis":{"orient":"top","values":[20,40,60,80,100,120],"labels":false,"title":null}},"y":{"field":"y","type":"quantitative","axis":{"orient":"right","values":[0.05,0.1,0.15,0.2,0.25,0.3,0.35,0.4],"labels":false,"title":null}},"detail":{"field":"line"},"order":{"value":null}}},
{"data":{"name":"reference"},"mark":{"type":"rule","color":"#111111","strokeWidth":2,"strokeDash":[16,16]},"encoding":{"x2":{"field":"x2"}}},
{"data":{"name":"dLabels"},"mark":{"type":"text","fontSize":20,"color":"#2b2b2b"},"encoding":{"text":{"field":"text"},"angle":{"field":"angle","type":"quantitative","scale":null}}},
{"data":{"name":"dBox"},"mark":{"type":"rect","color":"white"},"encoding":{"x2":{"field":"x2"},"y2":{"field":"y2"}}},
{"data":{"name":"dHead"},"transform":[{"filter":"datum.kind=='big'"}],"mark":{"type":"text","align":"left","baseline":"alphabetic","fontSize":27,"color":"#231f20"},"encoding":{"text":{"field":"text"}}},
{"data":{"name":"dHead"},"transform":[{"filter":"datum.kind=='phi'"}],"mark":{"type":"text","align":"left","baseline":"alphabetic","fontSize":23,"color":"#231f20"},"encoding":{"text":{"field":"text"}}},
{"data":{"name":"dHead"},"transform":[{"filter":"datum.kind=='sub'"}],"mark":{"type":"text","align":"left","baseline":"alphabetic","fontSize":19,"color":"#231f20"},"encoding":{"text":{"field":"text"}}}
]}
]}
]
}
